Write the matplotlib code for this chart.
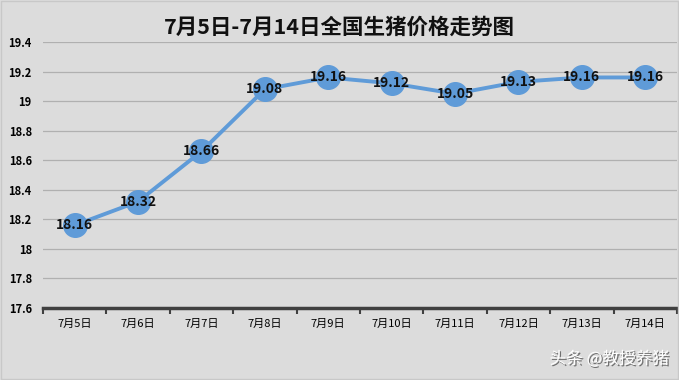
import matplotlib.pyplot as plt
import matplotlib.patheffects as pe

plt.rcParams['font.family'] = ['Noto Sans CJK SC', 'DejaVu Sans']

dates = ["7月5日", "7月6日", "7月7日", "7月8日", "7月9日",
         "7月10日", "7月11日", "7月12日", "7月13日", "7月14日"]
prices = [18.16, 18.32, 18.66, 19.08, 19.16, 19.12, 19.05, 19.13, 19.16, 19.16]
y_ticks = [17.6, 17.8, 18.0, 18.2, 18.4, 18.6, 18.8, 19.0, 19.2, 19.4]
y_labels = ["17.6", "17.8", "18", "18.2", "18.4", "18.6", "18.8", "19", "19.2", "19.4"]

bg = "#dcdcdc"
fig = plt.figure(figsize=(6.79, 3.80), dpi=100, facecolor=bg)
ax = fig.add_axes([0.0633, 0.1895, 0.9337, 0.70])
ax.set_facecolor(bg)

x = list(range(len(dates)))
ax.plot(x, prices, color="#5f9bd8", lw=2.8, marker="o", ms=17,
        markerfacecolor="#5f9bd8", markeredgecolor="#5f9bd8", zorder=3)
for xi, p in zip(x, prices):
    ax.text(xi, p, f"{p:.2f}", ha="center", va="center", fontsize=10,
            fontweight="bold", color="#111111", zorder=4)

ax.set_xlim(-0.5, len(dates) - 0.5)
ax.set_ylim(17.6, 19.4)
ax.set_yticks(y_ticks)
ax.set_yticklabels(y_labels, fontsize=8, fontweight="bold")
ax.set_xticks(x)
ax.set_xticklabels(dates, fontsize=8)
ax.set_xticks([i - 0.5 for i in range(len(dates) + 1)], minor=True)
ax.tick_params(axis="x", which="major", length=0, pad=8)
ax.tick_params(axis="x", which="minor", length=4, width=1.5, color="#404040")
ax.tick_params(axis="y", length=0, pad=8)
ax.grid(axis="y", color="#b0b0b0", lw=0.9)
ax.set_axisbelow(True)
for s in ["top", "right", "left"]:
    ax.spines[s].set_visible(False)
ax.spines["bottom"].set_color("#404040")
ax.spines["bottom"].set_linewidth(2.5)

fig.text(0.5, 0.928, "7月5日-7月14日全国生猪价格走势图", ha="center", va="center",
         fontsize=15.5, fontweight="bold", color="#111111")
fig.text(0.985, 0.055, "头条 @教授养猪", ha="right", va="center", fontsize=12,
         color="white", path_effects=[pe.withSimplePatchShadow(offset=(1, -1), shadow_rgbFace="#555555", alpha=0.8)])
fig.patches.append(plt.Rectangle((0.002, 0.002), 0.996, 0.996, transform=fig.transFigure,
                                 fill=False, edgecolor="#c8c8c8", lw=1))

fig.savefig("out.png", dpi=100, facecolor=bg)
